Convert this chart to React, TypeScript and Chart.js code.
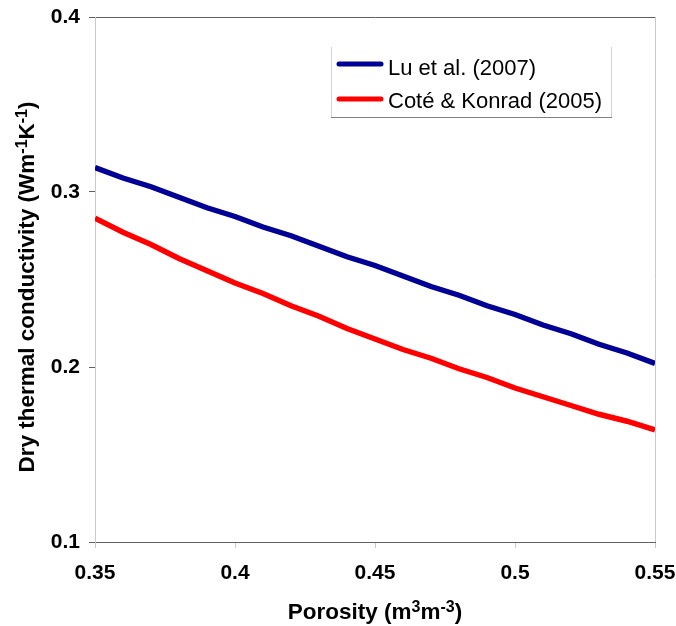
import React, { useEffect, useRef } from "react";
import { Chart, registerables } from "chart.js";

Chart.register(...registerables);

// ---- data ----
const porosity = [
  0.35, 0.36, 0.37, 0.38, 0.39, 0.4, 0.41, 0.42, 0.43, 0.44, 0.45,
  0.46, 0.47, 0.48, 0.49, 0.5, 0.51, 0.52, 0.53, 0.54, 0.55,
];
const luEtAl2007 = [
  0.314, 0.308, 0.303, 0.297, 0.291, 0.286, 0.280, 0.275, 0.269, 0.263, 0.258,
  0.252, 0.246, 0.241, 0.235, 0.230, 0.224, 0.219, 0.213, 0.208, 0.202,
];
const coteKonrad2005 = [
  0.285, 0.277, 0.270, 0.262, 0.255, 0.248, 0.242, 0.235, 0.229, 0.222, 0.216,
  0.210, 0.205, 0.199, 0.194, 0.188, 0.183, 0.178, 0.173, 0.169, 0.164,
];
const seriesLabels = ["Lu et al. (2007)", "Coté & Konrad (2005)"];
const seriesColors = ["#000096", "#ff0000"];
const xTitleParts = [
  { t: "Porosity (m" },
  { t: "3", sup: true },
  { t: "m" },
  { t: "-3", sup: true },
  { t: ")" },
];
const yTitleParts = [
  { t: "Dry thermal conductivity (Wm" },
  { t: "-1", sup: true },
  { t: "K" },
  { t: "-1", sup: true },
  { t: ")" },
];

const FONT = '"Liberation Sans", Arial, Helvetica, sans-serif';
const DARK = "#606060";
const LIGHT = "#c8c8c8";

type Part = { t: string; sup?: boolean };

function drawRich(ctx: CanvasRenderingContext2D, parts: Part[], size: number, supSize: number, rise: number) {
  const widths = parts.map((p) => {
    ctx.font = `bold ${p.sup ? supSize : size}px ${FONT}`;
    return ctx.measureText(p.t).width;
  });
  const total = widths.reduce((a, b) => a + b, 0);
  let x = -total / 2;
  ctx.textAlign = "left";
  ctx.textBaseline = "alphabetic";
  ctx.fillStyle = "#000";
  parts.forEach((p, i) => {
    ctx.font = `bold ${p.sup ? supSize : size}px ${FONT}`;
    ctx.fillText(p.t, x, p.sup ? -rise : 0);
    x += widths[i];
  });
}

const decorPlugin = {
  id: "decor",
  afterDraw(chart: any) {
    const ctx: CanvasRenderingContext2D = chart.ctx;
    const area = chart.chartArea;
    // axis titles
    ctx.save();
    ctx.translate((area.left + area.right) / 2, 619);
    drawRich(ctx, xTitleParts, 22.5, 16, 7);
    ctx.restore();

    ctx.save();
    ctx.translate(34, 287);
    ctx.rotate(-Math.PI / 2);
    drawRich(ctx, yTitleParts, 22.5, 16, 7);
    ctx.restore();

    // legend
    ctx.save();
    const bx = 331, by = 47, bw = 280, bh = 70;
    ctx.fillStyle = "#fff";
    ctx.fillRect(bx, by, bw, bh);
    ctx.lineWidth = 1;
    ctx.strokeStyle = "#d4d4d4";
    ctx.beginPath();
    ctx.moveTo(bx + 0.5, by);
    ctx.lineTo(bx + 0.5, by + bh);
    ctx.moveTo(bx + bw + 0.5, by);
    ctx.lineTo(bx + bw + 0.5, by + bh);
    ctx.stroke();
    ctx.strokeStyle = "#808080";
    ctx.beginPath();
    ctx.moveTo(bx, by + bh + 0.5);
    ctx.lineTo(bx + bw + 1, by + bh + 0.5);
    ctx.stroke();

    const rows = [
      { lineY: 64, textY: 75 },
      { lineY: 99, textY: 108 },
    ];
    seriesLabels.forEach((label, i) => {
      ctx.strokeStyle = seriesColors[i];
      ctx.lineWidth = 5;
      ctx.lineCap = "round";
      ctx.beginPath();
      ctx.moveTo(339, rows[i].lineY);
      ctx.lineTo(381, rows[i].lineY);
      ctx.stroke();
      ctx.fillStyle = "#000";
      ctx.font = `22px ${FONT}`;
      ctx.textAlign = "left";
      ctx.textBaseline = "alphabetic";
      ctx.fillText(label, 388, rows[i].textY);
    });
    ctx.restore();
  },
};

export default function App() {
  const ref = useRef<HTMLCanvasElement | null>(null);

  useEffect(() => {
    document.body.style.margin = "0";
    const canvas = ref.current;
    if (!canvas) return;
    const near = (a: number, b: number) => Math.abs(a - b) < 1e-6;

    const chart = new Chart(canvas, {
      type: "line",
      data: {
        datasets: [
          {
            label: seriesLabels[0],
            data: porosity.map((x, i) => ({ x, y: luEtAl2007[i] })),
            borderColor: seriesColors[0],
            borderWidth: 5.5,
            pointRadius: 0,
            tension: 0,
            fill: false,
          },
          {
            label: seriesLabels[1],
            data: porosity.map((x, i) => ({ x, y: coteKonrad2005[i] })),
            borderColor: seriesColors[1],
            borderWidth: 5.5,
            pointRadius: 0,
            tension: 0,
            fill: false,
          },
        ],
      },
      options: {
        animation: false,
        responsive: false,
        devicePixelRatio: 1,
        layout: { padding: { top: 17, right: 21, left: 0, bottom: 0 } },
        plugins: {
          legend: { display: false },
          tooltip: { enabled: false },
          title: { display: false },
        },
        scales: {
          x: {
            type: "linear",
            min: 0.35,
            max: 0.55,
            ticks: {
              stepSize: 0.05,
              padding: 13,
              color: "#000",
              font: { family: FONT, size: 21, weight: "bold" },
              maxRotation: 0,
              callback: (v: any) => String(parseFloat(Number(v).toFixed(2))),
            },
            grid: {
              color: (c: any) =>
                c.tick && (near(c.tick.value, 0.35) || near(c.tick.value, 0.55)) ? LIGHT : "rgba(0,0,0,0)",
              tickColor: LIGHT,
              tickLength: 6,
              lineWidth: 1,
            },
            border: { display: true, color: DARK, width: 1 },
            afterFit: (s: any) => {
              s.height = 84;
              s.paddingLeft = 0;
              s.paddingRight = 0;
            },
          },
          y: {
            type: "linear",
            min: 0.1,
            max: 0.4,
            ticks: {
              stepSize: 0.1,
              padding: 9,
              color: "#000",
              font: { family: FONT, size: 21, weight: "bold" },
              callback: (v: any) => Number(v).toFixed(1),
            },
            grid: {
              color: (c: any) =>
                c.tick && (near(c.tick.value, 0.4) || near(c.tick.value, 0.1)) ? DARK : "rgba(0,0,0,0)",
              tickColor: DARK,
              tickLength: 6,
              lineWidth: 1,
            },
            border: { display: true, color: LIGHT, width: 1 },
            afterFit: (s: any) => {
              s.width = 95;
              s.paddingTop = 0;
              s.paddingBottom = 0;
            },
          },
        },
      } as any,
      plugins: [decorPlugin],
    });
    return () => chart.destroy();
  }, []);

  return (
    <div style={{ width: 676, height: 626, background: "#fff" }}>
      <canvas ref={ref} width={676} height={626} style={{ display: "block" }} />
    </div>
  );
}
